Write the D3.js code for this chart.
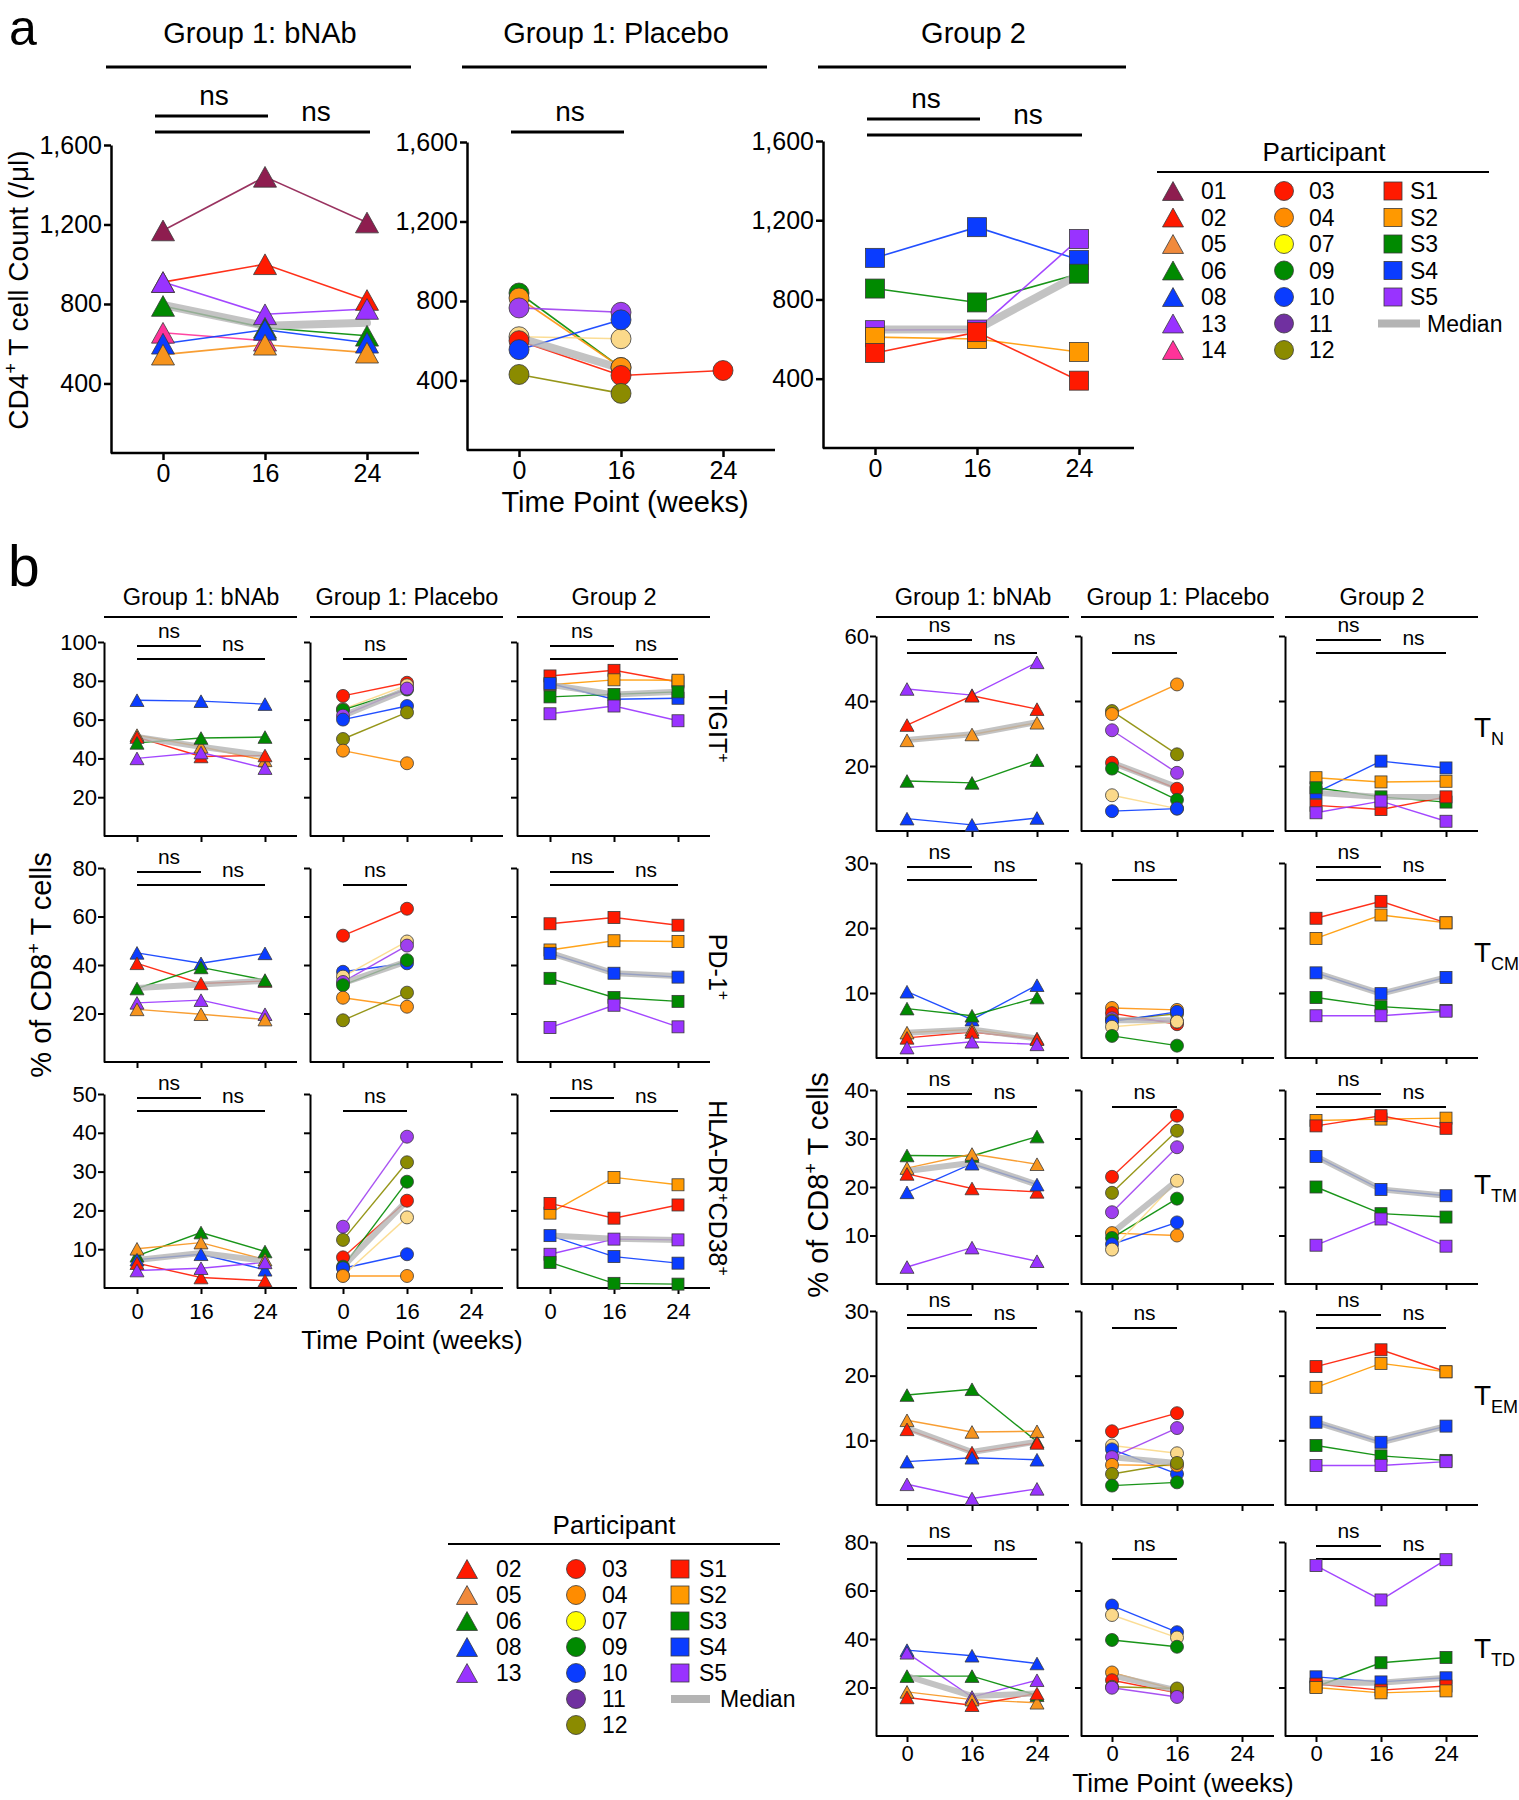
<!DOCTYPE html>
<html><head><meta charset="utf-8">
<script src="https://cdn.jsdelivr.net/npm/d3@7"></script>
<style>body{margin:0;background:#fff}</style>
</head><body>
<svg id="c" width="1519" height="1800"></svg>
<script>
// ---------------- DATA ----------------
const weeks = ["0","16","24"];
const triangleIds = ["01","02","05","06","08","13","14"];
const circleIds   = ["03","04","07","09","10","11","12"];
const squareIds   = ["S1","S2","S3","S4","S5"];
const legendBTriangles = ["02","05","06","08","13"];

// panel a: CD4+ T cell count (/µl)
const cd4Ticks = [400,800,1200,1600];
const cd4_bnab = [["01",1170,1440,1210],["02",910,1000,820],["13",910,748,775],["06",790,680,640],["14",655,615,null],["08",600,670,605],["05",545,595,555]];
const cd4_bnab_med = [795,690,705];
const cd4_placebo = [["09",840,465,null],["04",815,465,null],["11",765,743,null],["07",620,610,null],["03",600,425,450],["10",555,705,null],["12",430,335,null]];
const cd4_placebo_med = [615,460,null];
const cd4_g2 = [["S4",1010,1165,1000],["S3",855,785,930],["S5",645,648,1105],["S2",610,600,535],["S1",530,635,390]];
const cd4_g2_med = [648,650,925];

// panel b left: % of CD8+ T cells
const tigitTicks = [20,40,60,80,100];
const tigit_bnab = [["08",70,69.5,68],["05",52,46,39],["02",51,41,41.5],["06",48,50.5,51],["13",40,43,35]];
const tigit_bnab_med = [51,46,41.5];
const tigit_placebo = [["03",72.2,79,null],["07",65.4,77.7,null],["09",65,75.5,null],["11",62,76,null],["10",60,67,null],["12",50,63.7,null],["04",44,37.5,null]];
const tigit_placebo_med = [62,75.5,null];
const tigit_g2 = [["S1",82.5,85.4,79.4],["S2",78,80.5,80.3],["S4",78.6,70.5,71],["S3",71.7,73,74.3],["S5",63,67,59.4]];
const tigit_g2_med = [78,73,74.3];

const pd1Ticks = [20,40,60,80];
const pd1_bnab = [["08",45,40.7,44.8],["02",40.7,32.4,33.4],["06",30.3,39,33.8],["13",24.4,25.5,19.7],["05",21.7,19.7,17.5]];
const pd1_bnab_med = [30.5,32,33.5];
const pd1_placebo = [["03",52.1,63.2,null],["10",37.2,40.7,null],["07",35.2,49.7,null],["11",33,48,null],["09",31.7,42,null],["04",26.5,22.8,null],["12",17.2,28.6,null]];
const pd1_placebo_med = [32.5,41.5,null];
const pd1_g2 = [["S1",57,59.6,56.4],["S2",46.2,50,49.7],["S4",44.8,36.6,35],["S3",34.5,26.6,25],["S5",14.2,23.4,14.5]];
const pd1_g2_med = [45,36.6,35.5];

const hlaTicks = [10,20,30,40,50];
const hla_bnab = [["06",8.3,14.3,9.4],["05",10.1,11.7,7.3],["08",7.3,8.7,4.7],["02",6.4,2.7,1.9],["13",4.5,5.1,6.6]];
const hla_bnab_med = [7.2,9,7];
const hla_placebo = [["11",15.8,39,null],["12",12.4,32.4,null],["03",7.9,22.5,null],["09",5.5,27.4,null],["10",5.1,8.7,null],["07",3.2,18.2,null],["04",3.1,3.1,null]];
const hla_placebo_med = [5.5,22.5,null];
const hla_g2 = [["S2",19.3,28.5,26.6],["S1",21.8,18,21.4],["S4",13.5,8.1,6.4],["S5",8.7,12.6,12.4],["S3",6.6,1.2,1]];
const hla_g2_med = [13.5,12.7,12.4];

// panel b right
const tnTicks = [20,40,60];
const tn_bnab = [["13",43.7,41.8,51.9],["02",32.6,41.6,37.5],["05",27.9,29.7,33.3],["06",15.4,14.8,21.8],["08",3.8,1.9,4]];
const tn_bnab_med = [28,29.8,33.5];
const tn_placebo = [["12",36.9,23.6,null],["04",36,45.1,null],["11",31,17.9,null],["03",21,13,null],["09",19.2,9.6,null],["07",11,6.9,null],["10",6.1,6.9,null]];
const tn_placebo_med = [21,13.5,null];
const tn_g2 = [["S4",11.8,21.5,19.4],["S2",16.4,15.1,15.3],["S3",13.3,10.5,8.9],["S1",7.9,6.6,10.5],["S5",5.6,9.2,3]];
const tn_g2_med = [11.8,10.5,10.5];

const tcmTicks = [10,20,30];
const tcm_bnab = [["08",10.2,5.9,11.2],["06",7.6,6.5,9.3],["05",3.9,4.4,3],["02",3.1,4,2.9],["13",1.6,2.5,2.1]];
const tcm_bnab_med = [3.9,4.4,3];
const tcm_placebo = [["04",7.7,7.4,null],["03",6.9,5.2,null],["11",6.1,5.6,null],["12",5.8,6.8,null],["10",5.6,7.1,null],["07",4.8,5.6,null],["09",3.4,1.9,null]];
const tcm_placebo_med = [5.8,5.8,null];
const tcm_g2 = [["S1",21.5,24.1,20.8],["S2",18.4,22,20.8],["S4",13.1,9.9,12.4],["S3",9.3,7.9,7.3],["S5",6.5,6.5,7.2]];
const tcm_g2_med = [13.1,9.9,12.4];

const ttmTicks = [10,20,30,40];
const ttm_bnab = [["06",26.5,26.4,30.4],["05",23.9,26.8,24.7],["02",22.7,19.7,19],["08",18.9,24.8,20.5],["13",3.5,7.5,4.7]];
const ttm_bnab_med = [23.3,25,20.5];
const ttm_placebo = [["03",22.1,34.7,null],["12",18.8,31.6,null],["11",14.8,28.2,null],["04",10.5,10,null],["09",9.5,17.6,null],["10",8.2,12.7,null],["07",7.1,21.3,null]];
const ttm_placebo_med = [10.5,21.3,null];
const ttm_g2 = [["S2",33.7,34,34.2],["S1",32.6,34.7,32.1],["S4",26.3,19.5,18.2],["S3",20,14.5,13.8],["S5",8,13.4,7.8]];
const ttm_g2_med = [26.3,19.5,18.2];

const temTicks = [10,20,30];
const tem_bnab = [["06",17,17.9,9.8],["05",13.1,11.3,11.4],["02",11.7,8.1,9.6],["08",6.7,7.3,7],["13",3.2,1,2.5]];
const tem_bnab_med = [11.9,8.2,9.8];
const tem_placebo = [["03",11.4,14.2,null],["07",9.2,8,null],["10",8.6,4.8,null],["11",7.4,11.9,null],["04",6.2,6.1,null],["12",4.8,6.5,null],["09",3,3.5,null]];
const tem_placebo_med = [7.4,6.5,null];
const tem_g2 = [["S1",21.4,24,20.6],["S2",18.2,21.9,20.6],["S4",12.8,9.7,12.2],["S3",9.2,7.6,6.9],["S5",6.1,6.1,6.7]];
const tem_g2_med = [12.8,9.7,12.2];

const ttdTicks = [20,40,60,80];
const ttd_bnab = [["08",35.4,33.1,29.9],["13",34.3,16.1,23],["06",24.7,24.7,16.8],["05",18.2,15,13.7],["02",15.9,12.7,17.5]];
const ttd_bnab_med = [24.7,16.5,17.5];
const ttd_placebo = [["10",53.8,42.8,null],["07",49.9,40.6,null],["09",39.6,36.8,null],["04",26.2,18.9,null],["03",23,17.8,null],["12",20.3,19.6,null],["11",19.9,16.1,null]];
const ttd_placebo_med = [25,18.8,null];
const ttd_g2 = [["S5",70.3,56.1,72.7],["S3",20.3,30.2,32.4],["S4",24.4,22.3,24],["S1",21.4,18.9,20.6],["S2",20,17.8,18.6]];
const ttd_g2_med = [22,22,24];

// ---------------- STYLE ----------------
const plotColor = {"01":"#8E1D4F","02":"#FF1A00","05":"#F7941D","06":"#008A00","08":"#0A3CFF","13":"#9933FF","14":"#FF3399",
  "03":"#FF1A00","04":"#FF9410","07":"#FBD98A","09":"#008A00","10":"#0A3CFF","11":"#9F3FEF","12":"#8B8B00",
  "S1":"#FF1A00","S2":"#FF9900","S3":"#008A00","S4":"#0A3CFF","S5":"#9933FF"};
const legendColor = Object.assign({}, plotColor, {"05":"#F08A3C","07":"#FFFF00","11":"#7030A0","04":"#FF8C00"});
const SANS = '"Liberation Sans", Arial, Helvetica, sans-serif';
const MED = "#b4b4b4";

const svg = d3.select("#c");

function text(g, x, y, parts, size, anchor, rotate) {
  const t = g.append("text").attr("font-family", SANS).attr("font-size", size)
    .attr("text-anchor", anchor || "start").attr("fill", "#000")
    .attr("transform", `translate(${x},${y})` + (rotate ? ` rotate(${rotate})` : ""));
  if (typeof parts === "string") t.text(parts);
  else parts.forEach(p => { const s = t.append("tspan").text(p.t); if (p.dy) s.attr("dy", p.dy); if (p.fs) s.attr("font-size", p.fs); });
  return t;
}

function marker(g, id, cx, cy, s, fill) {
  const st = "#3a3a3a";
  if (squareIds.includes(id)) {
    g.append("rect").attr("x", cx - s/2).attr("y", cy - s/2).attr("width", s).attr("height", s)
      .attr("fill", fill).attr("stroke", st).attr("stroke-width", 0.8);
  } else if (triangleIds.includes(id)) {
    const h = s * 0.9;
    g.append("path").attr("d", `M${cx},${cy - h/2}L${cx - s/2},${cy + h/2}L${cx + s/2},${cy + h/2}Z`)
      .attr("fill", fill).attr("stroke", st).attr("stroke-width", 0.8);
  } else {
    g.append("circle").attr("cx", cx).attr("cy", cy).attr("r", s/2)
      .attr("fill", fill).attr("stroke", st).attr("stroke-width", 0.8);
  }
}

function panel(o) {
  const g = svg.append("g");
  const y = d3.scaleLinear().domain(o.dom).range([o.bot, o.top]);
  const x = d3.scalePoint().domain(weeks).range([o.x0 + o.p0, o.x0 + o.p24]);
  const ya = d3.axisLeft(y).tickValues(o.ticks).tickSize(o.tk).tickSizeOuter(0).tickPadding(o.tp)
    .tickFormat(o.ylab ? o.fmt : "");
  const yg = g.append("g").attr("transform", `translate(${o.x0},0)`).call(ya);
  const xa = d3.axisBottom(x).tickSize(o.tk).tickSizeOuter(0).tickPadding(o.xtp).tickFormat(o.xlab ? (d => d) : "");
  const xg = g.append("g").attr("transform", `translate(0,${o.bot})`).call(xa);
  xg.select(".domain").remove();
  g.append("line").attr("x1", o.x0).attr("x2", o.x1).attr("y1", o.bot).attr("y2", o.bot)
    .attr("stroke", "#000").attr("stroke-width", o.sw);
  [yg, xg].forEach(a => {
    a.attr("font-family", SANS).attr("font-size", o.fs);
    a.selectAll("path,line").attr("stroke", "#000").attr("stroke-width", o.sw);
    a.selectAll("text").attr("fill", "#000");
  });
  // significance brackets
  const bx = (a, b) => (x(a) + x(b)) / 2;
  const br = (xa1, xa2, yy) => g.append("line").attr("x1", xa1).attr("x2", xa2).attr("y1", yy).attr("y2", yy)
    .attr("stroke", "#000").attr("stroke-width", o.bw);
  if (o.ns1 != null) {
    br(x("0") - o.bo, x("16") + o.bo2, o.ns1);
    text(g, bx("0","16"), o.ns1 - o.nsOff, "ns", o.nsFs, "middle");
  }
  if (o.ns2 != null) {
    if (o.single) {
      br(x("0") - o.bo, x("16") + o.bo2, o.ns2);
      text(g, bx("0","16"), o.ns2 - o.nsOff, "ns", o.nsFs, "middle");
    } else {
      br(x("0") - o.bo, x("24") + o.bo2, o.ns2);
      text(g, bx("16","24"), o.ns2 - o.nsOff, "ns", o.nsFs, "middle");
    }
  }
  const line = d3.line().defined(d => d[1] != null).x(d => x(d[0])).y(d => y(d[1]));
  // participant lines
  o.data.forEach(r => {
    const pts = weeks.map((w, i) => [w, r[i + 1]]);
    g.append("path").attr("d", line(pts)).attr("fill", "none").attr("stroke", plotColor[r[0]])
      .attr("stroke-width", o.lw).attr("stroke-opacity", 0.9);
  });
  // median
  const mpts = weeks.map((w, i) => [w, o.med[i]]);
  g.append("path").attr("d", line(mpts)).attr("fill", "none").attr("stroke", MED)
    .attr("stroke-width", o.mw).attr("stroke-opacity", 0.8).attr("stroke-linecap", "round");
  // markers
  o.data.forEach(r => {
    weeks.forEach((w, i) => {
      if (r[i + 1] == null) return;
      const id = r[0];
      const s = squareIds.includes(id) ? o.ms[2] : triangleIds.includes(id) ? o.ms[0] : o.ms[1];
      marker(g, id, x(w), y(r[i + 1]), s, plotColor[id]);
    });
  });
  return {x, y};
}

// ---------------- PANEL a ----------------
text(svg, 9, 45, "a", 50);
const aCfg = [
  {x0:111, x1:419, top:145, bot:453, data:cd4_bnab, med:cd4_bnab_med, ns1:116, ns2:132, single:false, head:"Group 1: bNAb"},
  {x0:467, x1:775, top:142, bot:450, data:cd4_placebo, med:cd4_placebo_med, ns1:null, ns2:132, single:true, head:"Group 1: Placebo"},
  {x0:823, x1:1134, top:141, bot:448, data:cd4_g2, med:cd4_g2_med, ns1:119, ns2:135, single:false, head:"Group 2"}
];
aCfg.forEach(c => {
  panel(Object.assign({dom:[50,1600], ticks:cd4Ticks, p0:52, p24:256, tk:7, tp:2, xtp:4, fs:25, ylab:true, xlab:true,
    fmt:d3.format(","), sw:2.5, bw:3, bo:8, bo2:3, nsOff:11, nsFs:28, lw:1.6, mw:8, ms:[23,20,19]}, c));
  svg.append("line").attr("x1", c.x0 - 5).attr("x2", c.x1 - 8).attr("y1", 67).attr("y2", 67)
    .attr("stroke", "#000").attr("stroke-width", 3);
  text(svg, (c.x0 + c.x1) / 2 - 5, 43, c.head, 29, "middle");
});
text(svg, 28, 290, [{t:"CD4"},{t:"+",fs:18,dy:-11},{t:" T cell Count (/",dy:11},{t:"μ"},{t:"l)"}], 28, "middle", -90);
text(svg, 625, 512, "Time Point (weeks)", 29, "middle");

// legend a
const legA = svg.append("g");
text(legA, 1324, 161, "Participant", 26, "middle");
legA.append("line").attr("x1", 1157).attr("x2", 1489).attr("y1", 172).attr("y2", 172).attr("stroke", "#000").attr("stroke-width", 2);
[[triangleIds,1173,1201],[circleIds,1284,1309],[squareIds,1393,1410]].forEach(([ids, mx, lx]) => {
  ids.forEach((id, i) => {
    const yy = 191 + i * 26.5;
    const s = squareIds.includes(id) ? 18 : triangleIds.includes(id) ? 21 : 19;
    marker(legA, id, mx, yy, s, legendColor[id]);
    text(legA, lx, yy + 8, id, 23);
  });
});
legA.append("line").attr("x1", 1378).attr("x2", 1420).attr("y1", 191 + 5 * 26.5).attr("y2", 191 + 5 * 26.5)
  .attr("stroke", MED).attr("stroke-width", 8);
text(legA, 1427, 191 + 5 * 26.5 + 8, "Median", 23);

// ---------------- PANEL b ----------------
text(svg, 8, 586, "b", 57);
const heads = ["Group 1: bNAb", "Group 1: Placebo", "Group 2"];
const leftCols = [104, 310, 517];
const rightCols = [876, 1081, 1285];
[leftCols, rightCols].forEach(cols => cols.forEach((x0, i) => {
  svg.append("line").attr("x1", x0).attr("x2", x0 + 193).attr("y1", 617).attr("y2", 617)
    .attr("stroke", "#000").attr("stroke-width", 2.2);
  text(svg, x0 + 97, 605, heads[i], 23.5, "middle");
}));

const leftRows = [
  {top:642, bot:836, dom:[0,100], ticks:tigitTicks, sets:[[tigit_bnab,tigit_bnab_med],[tigit_placebo,tigit_placebo_med],[tigit_g2,tigit_g2_med]],
   label:[{t:"TIGIT"},{t:"+",fs:16,dy:-9}], ly:726},
  {top:868, bot:1062, dom:[0,80], ticks:pd1Ticks, sets:[[pd1_bnab,pd1_bnab_med],[pd1_placebo,pd1_placebo_med],[pd1_g2,pd1_g2_med]],
   label:[{t:"PD-1"},{t:"+",fs:16,dy:-9}], ly:967},
  {top:1094, bot:1288, dom:[0,50], ticks:hlaTicks, sets:[[hla_bnab,hla_bnab_med],[hla_placebo,hla_placebo_med],[hla_g2,hla_g2_med]],
   label:[{t:"HLA-DR"},{t:"+",fs:16,dy:-9},{t:"CD38",dy:9},{t:"+",fs:16,dy:-9}], ly:1188}
];
const rightRows = [
  {top:636, bot:831, dom:[0,60], ticks:tnTicks, sets:[[tn_bnab,tn_bnab_med],[tn_placebo,tn_placebo_med],[tn_g2,tn_g2_med]], sub:"N", ly:727},
  {top:863, bot:1058, dom:[0,30], ticks:tcmTicks, sets:[[tcm_bnab,tcm_bnab_med],[tcm_placebo,tcm_placebo_med],[tcm_g2,tcm_g2_med]], sub:"CM", ly:952},
  {top:1090, bot:1284, dom:[0,40], ticks:ttmTicks, sets:[[ttm_bnab,ttm_bnab_med],[ttm_placebo,ttm_placebo_med],[ttm_g2,ttm_g2_med]], sub:"TM", ly:1184},
  {top:1311, bot:1505, dom:[0,30], ticks:temTicks, sets:[[tem_bnab,tem_bnab_med],[tem_placebo,tem_placebo_med],[tem_g2,tem_g2_med]], sub:"EM", ly:1395},
  {top:1542, bot:1736, dom:[0,80], ticks:ttdTicks, sets:[[ttd_bnab,ttd_bnab_med],[ttd_placebo,ttd_placebo_med],[ttd_g2,ttd_g2_med]], sub:"TD", ly:1648}
];

function bRow(r, cols, last, p0, xtp) {
  cols.forEach((x0, i) => {
    panel({x0, x1:x0 + 193, top:r.top, bot:r.bot, dom:r.dom, ticks:r.ticks, p0, p24:161, tk:6, tp:1, xtp,
      fs:22, ylab:i === 0, xlab:last, fmt:d3.format("d"), sw:2, bw:1.8, bo:0, bo2:0, nsOff:8, nsFs:21,
      ns1: i === 1 ? null : r.top + 4, ns2: r.top + 17, single: i === 1,
      data:r.sets[i][0], med:r.sets[i][1], lw:1.4, mw:6, ms:[14,13,12]});
  });
}
leftRows.forEach((r, k) => {
  bRow(r, leftCols, k === leftRows.length - 1, 33, 9);
  text(svg, 709, r.ly, r.label, 25, "middle", 90);
});
rightRows.forEach((r, k) => {
  bRow(r, rightCols, k === rightRows.length - 1, 31, 3);
  text(svg, 1474, r.ly + 10, [{t:"T"},{t:r.sub, fs:18, dy:8}], 28, "start");
});
text(svg, 51, 965, [{t:"% of CD8"},{t:"+",fs:18,dy:-11},{t:" T cells",dy:11}], 29, "middle", -90);
text(svg, 828, 1185, [{t:"% of CD8"},{t:"+",fs:18,dy:-11},{t:" T cells",dy:11}], 29, "middle", -90);
text(svg, 412, 1349, "Time Point (weeks)", 26, "middle");
text(svg, 1183, 1792, "Time Point (weeks)", 26, "middle");

// legend b
const legB = svg.append("g");
text(legB, 614, 1534, "Participant", 26, "middle");
legB.append("line").attr("x1", 448).attr("x2", 780).attr("y1", 1544).attr("y2", 1544).attr("stroke", "#000").attr("stroke-width", 2);
[[legendBTriangles,467,496],[circleIds,576,602],[squareIds,680,699]].forEach(([ids, mx, lx]) => {
  ids.forEach((id, i) => {
    const yy = 1569 + i * 26;
    const s = squareIds.includes(id) ? 18 : triangleIds.includes(id) ? 21 : 19;
    marker(legB, id, mx, yy, s, legendColor[id]);
    text(legB, lx, yy + 8, id, 23);
  });
});
legB.append("line").attr("x1", 671).attr("x2", 710).attr("y1", 1569 + 5 * 26).attr("y2", 1569 + 5 * 26)
  .attr("stroke", MED).attr("stroke-width", 8);
text(legB, 720, 1569 + 5 * 26 + 8, "Median", 23);
</script>
</body></html>
